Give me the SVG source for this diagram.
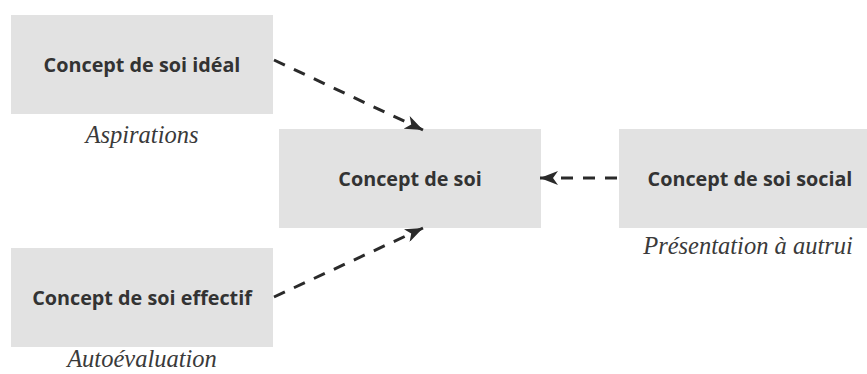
<svg xmlns="http://www.w3.org/2000/svg" width="867" height="374" viewBox="0 0 867 374">
<style>
.box{fill:#e2e2e2}
.t{font-family:"Open Sans","Noto Sans",sans-serif;font-weight:bold;font-size:19.8px;fill:#333;text-anchor:middle}
.c{font-family:"Liberation Serif",serif;font-style:italic;font-size:24.5px;fill:#3a3a3a;text-anchor:middle}
.e{stroke:#2a2a2a;stroke-width:3;stroke-dasharray:12 10;fill:none}
</style>
<defs>
<marker id="ah" markerWidth="18" markerHeight="14" refX="18" refY="7" orient="auto" markerUnits="userSpaceOnUse" viewBox="0 0 18 14">
<path d="M0,0 L18,7 L0,14 L5,7 Z" fill="#2a2a2a"/>
</marker>
</defs>
<rect width="867" height="374" fill="#fff"/>
<g id="ideal">
<rect class="box" x="11" y="15" width="262" height="99"/>
<text class="t" x="142" y="72">Concept de soi idéal</text>
<text class="c" x="142" y="143">Aspirations</text>
</g>
<g id="soi">
<rect class="box" x="279" y="129" width="262" height="99"/>
<text class="t" x="410" y="186">Concept de soi</text>
</g>
<g id="social">
<rect class="box" x="619" y="129" width="250" height="99"/>
<text class="t" x="750" y="186">Concept de soi social</text>
<text class="c" x="748" y="254">Présentation à autrui</text>
</g>
<g id="effectif">
<rect class="box" x="11" y="248" width="262" height="99"/>
<text class="t" x="142" y="305">Concept de soi effectif</text>
<text class="c" x="142" y="367">Autoévaluation</text>
</g>
<g id="connectors">
<path class="e" d="M274,60 L423,130" marker-end="url(#ah)"/>
<path class="e" d="M274,297 L423,228" marker-end="url(#ah)"/>
<path class="e" d="M617,178 L540,178" marker-end="url(#ah)"/>
</g>
</svg>
